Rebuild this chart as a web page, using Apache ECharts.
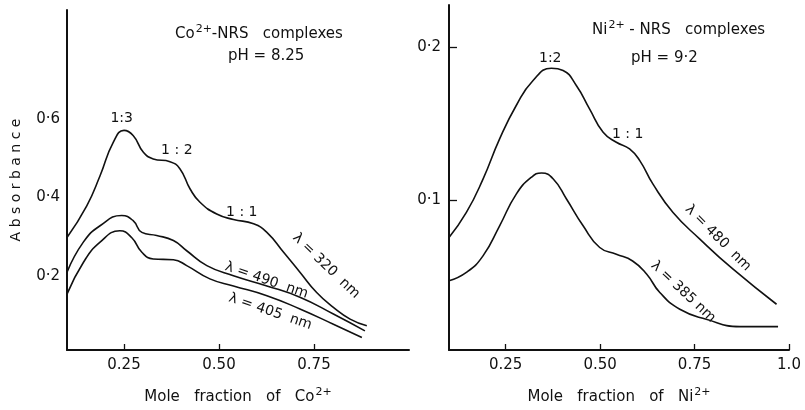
<!DOCTYPE html>
<html>
<head>
<meta charset="utf-8">
<script src="https://cdn.jsdelivr.net/npm/echarts@6/dist/echarts.min.js"></script>
<style>
  html, body { margin: 0; padding: 0; background: #fff; }
  #chart { width: 805px; height: 410px; }
</style>
</head>
<body>
<div id="chart"></div>
<script>
// Co2+ panel: [mole fraction, absorbance]
const co320 = [[0.1,0.298],[0.152,0.379],[0.187,0.456],[0.222,0.542],[0.25,0.572],[0.274,0.559],[0.301,0.516],[0.327,0.499],[0.371,0.492],[0.397,0.474],[0.424,0.422],[0.45,0.388],[0.494,0.358],[0.538,0.344],[0.591,0.333],[0.626,0.311],[0.67,0.26],[0.713,0.209],[0.757,0.157],[0.801,0.119],[0.845,0.089],[0.889,0.072]];
const co490 = [[0.1,0.209],[0.143,0.286],[0.187,0.328],[0.244,0.354],[0.274,0.341],[0.297,0.311],[0.336,0.303],[0.38,0.29],[0.415,0.264],[0.468,0.226],[0.538,0.2],[0.626,0.174],[0.713,0.145],[0.801,0.102],[0.884,0.059]];
const co405 = [[0.1,0.153],[0.143,0.234],[0.187,0.286],[0.239,0.315],[0.27,0.298],[0.297,0.26],[0.327,0.243],[0.38,0.241],[0.415,0.226],[0.476,0.192],[0.538,0.174],[0.626,0.149],[0.713,0.115],[0.801,0.076],[0.876,0.042]];

// Ni2+ panel
const ni480 = [[0.1,0.0756],[0.146,0.0919],[0.19,0.1137],[0.234,0.14],[0.278,0.1618],[0.322,0.178],[0.371,0.1862],[0.402,0.1847],[0.437,0.1749],[0.472,0.1596],[0.508,0.1443],[0.543,0.1378],[0.578,0.1334],[0.605,0.1258],[0.64,0.1104],[0.693,0.0919],[0.764,0.0745],[0.852,0.0548],[0.967,0.0319]];
const ni385 = [[0.1,0.0472],[0.146,0.0527],[0.19,0.0635],[0.234,0.0832],[0.278,0.1039],[0.318,0.1149],[0.345,0.1177],[0.376,0.1138],[0.411,0.1007],[0.455,0.0832],[0.499,0.069],[0.543,0.0646],[0.586,0.0602],[0.623,0.0517],[0.658,0.0396],[0.711,0.0286],[0.781,0.0221],[0.87,0.0173],[0.971,0.0173]];

// tick values
const coXTicks = [0.25, 0.5, 0.75];
const coYTicks = [0.2, 0.4, 0.6];
const niXTicks = [0.25, 0.5, 0.75, 1.0];
const niYTicks = [0.1, 0.2];
const niXLabels = ['0.25', '0.50', '0.75', '1.0'];

// annotations: [x, y, text, rotation]
const coNotes = [[0.244,0.604,'1:3',0],[0.389,0.522,'1 : 2',0],[0.56,0.363,'1 : 1',0],[0.782,0.225,'\u03bb = 320  nm',-44],[0.625,0.188,'\u03bb = 490  nm',-19],[0.635,0.108,'\u03bb = 405  nm',-19]];
const niNotes = [[0.368,0.1927,'1:2',0],[0.573,0.143,'1 : 1',0],[0.812,0.0752,'\u03bb = 480  nm',-45],[0.72,0.040,'\u03bb = 385 nm',-43]];

const font = 'DejaVu Sans';
const ink = '#111';
const dot = v => v.toFixed(1).replace('.', '\u00b7');
const sup = { sup: { fontSize: 11, verticalAlign: 'top', padding: [0, 0, 9, 1], fontFamily: font, color: ink } };

const chart = echarts.init(document.getElementById('chart'));

function curve(name, data, idx) {
  return {
    name, type: 'line', data, xAxisIndex: idx, yAxisIndex: idx,
    smooth: 0.5, symbol: 'none', silent: true,
    lineStyle: { color: ink, width: 1.6 }
  };
}

function notes(data, idx) {
  return {
    type: 'scatter', xAxisIndex: idx, yAxisIndex: idx, silent: true,
    symbolSize: 1, itemStyle: { color: 'rgba(0,0,0,0)' },
    data: data.map(n => ({
      value: [n[0], n[1]],
      label: { show: true, position: 'inside', formatter: n[2], rotate: n[3],
        color: ink, opacity: 1, textBorderWidth: 0, fontSize: 14, fontFamily: font }
    }))
  };
}

function xAxis(idx, ticks, labelFmt, nameText) {
  return {
    type: 'value', gridIndex: idx, min: 0.1, max: 1.0,
    name: nameText, nameLocation: 'middle', nameGap: 37,
    nameTextStyle: { color: ink, fontSize: 15, fontFamily: font, rich: sup },
    axisLine: { lineStyle: { color: ink, width: 2 } },
    axisTick: { inside: true, length: 6, customValues: ticks, lineStyle: { color: ink, width: 1.3 } },
    axisLabel: { customValues: ticks, formatter: labelFmt, color: ink, fontSize: 15, fontFamily: font, margin: 8 },
    splitLine: { show: false }
  };
}

function yAxis(idx, min, max, ticks, tickLen, nameText) {
  return {
    type: 'value', gridIndex: idx, min, max,
    name: nameText, nameLocation: 'middle', nameGap: 44,
    nameTextStyle: { color: ink, fontSize: 14, fontFamily: font },
    axisLine: { show: true, lineStyle: { color: ink, width: 2 } },
    axisTick: { show: tickLen > 0, inside: true, length: tickLen, customValues: ticks, lineStyle: { color: ink, width: 1.3 } },
    axisLabel: { customValues: ticks, formatter: dot, color: ink, fontSize: 15, fontFamily: font, margin: tickLen > 0 ? 8 : 7 },
    splitLine: { show: false }
  };
}

const option = {
  animation: false,
  backgroundColor: '#fff',
  grid: [
    { left: 67, top: 10, width: 342, height: 340 },
    { left: 449, top: 5, width: 340, height: 345 }
  ],
  xAxis: [
    xAxis(0, coXTicks, v => v.toFixed(2), 'Mole   fraction   of   Co{sup|2+}'),
    xAxis(1, niXTicks, v => niXLabels[niXTicks.indexOf(v)], 'Mole   fraction   of   Ni{sup|2+}')
  ],
  yAxis: [
    yAxis(0, 0.01, 0.88, coYTicks, 0, 'A b s o r b a n c e'),
    yAxis(1, 0.002, 0.2275, niYTicks, 8, '')
  ],
  graphic: [
    { type: 'text', left: 175, top: 24, style: { text: 'Co{sup|2+}-NRS   complexes', rich: sup, fill: ink, fontSize: 15, fontFamily: font } },
    { type: 'text', left: 228, top: 49, style: { text: 'pH = 8.25', fill: ink, fontSize: 15, fontFamily: font } },
    { type: 'text', left: 592, top: 20, style: { text: 'Ni{sup|2+} - NRS   complexes', rich: sup, fill: ink, fontSize: 15, fontFamily: font } },
    { type: 'text', left: 631, top: 51, style: { text: 'pH = 9\u00b72', fill: ink, fontSize: 15, fontFamily: font } }
  ],
  series: [
    curve('320 nm', co320, 0),
    curve('490 nm', co490, 0),
    curve('405 nm', co405, 0),
    curve('480 nm', ni480, 1),
    curve('385 nm', ni385, 1),
    notes(coNotes, 0),
    notes(niNotes, 1)
  ]
};

chart.setOption(option);
</script>
</body>
</html>
